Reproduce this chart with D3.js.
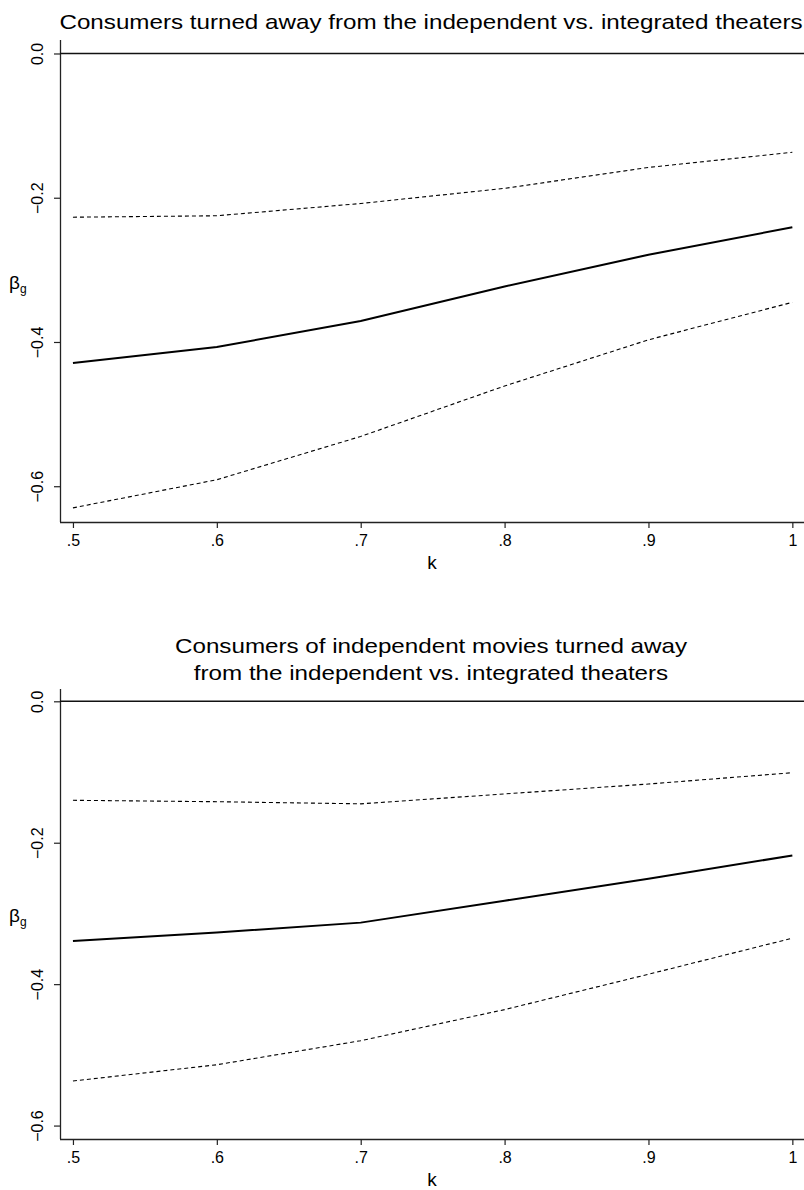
<!DOCTYPE html>
<html>
<head>
<meta charset="utf-8">
<script src="https://cdn.jsdelivr.net/npm/d3@7"></script>
<style>
	body { margin: 0; background: #fff; }
	svg { display: block; font-family: "Liberation Sans", Arial, Helvetica, sans-serif; }
</style>
</head>
<body>
<svg id="chart" width="804" height="1190"></svg>
<script>
"use strict";

var kValues = [0.5, 0.6, 0.7, 0.8, 0.9, 1.0];
var xTicks = [0.5, 0.6, 0.7, 0.8, 0.9, 1.0];
var xTickLabels = [".5", ".6", ".7", ".8", ".9", "1"];
var yTicks = [0, -0.2, -0.4, -0.6];
var yTickLabels = ["0.0", "\u22120.2", "\u22120.4", "\u22120.6"];

// panel 1: all consumers turned away
var est1 = [-0.429, -0.407, -0.371, -0.323, -0.279, -0.241];
var upper1 = [-0.227, -0.225, -0.208, -0.187, -0.158, -0.137];
var lower1 = [-0.630, -0.591, -0.531, -0.461, -0.397, -0.345];

// panel 2: consumers of independent movies
var est2 = [-0.339, -0.327, -0.313, -0.282, -0.251, -0.218];
var upper2 = [-0.140, -0.142, -0.145, -0.131, -0.117, -0.101];
var lower2 = [-0.537, -0.514, -0.480, -0.436, -0.386, -0.335];

var title1 = ["Consumers turned away from the independent vs. integrated theaters"];
var title2 = ["Consumers of independent movies turned away", "from the independent vs. integrated theaters"];

var svg = d3.select('#chart');
var stretch = 1.18; // reference text is a little wider than Liberation Sans

function drawPanel(opt) {
	var g = svg.append('g');
	var left = 60, right = 804;

	var x = d3.scaleLinear().domain([0.491, 1.0081]).range([left, right]);
	var y = d3.scaleLinear().domain(opt.yDomain).range([opt.bottom, opt.top]);

	// title
	opt.title.forEach(function(t, i){
		g.append('text')
			.attr('transform', 'translate(431,' + (opt.titleY + i*27) + ') scale(' + stretch + ',1)')
			.attr('text-anchor', 'middle')
			.attr('font-size', '20.5px')
			.attr('fill', '#000')
			.text(t);
	});

	// y axis
	var yAxis = d3.axisLeft(y).tickValues(yTicks).tickSize(6)
		.tickFormat(function(d, i){ return yTickLabels[i]; });
	var ya = g.append('g').attr('transform', 'translate(' + left + ',0)').call(yAxis);
	ya.select('.domain').attr('d', 'M0.5,' + opt.top + 'V' + opt.bottom).attr('stroke', '#222').attr('stroke-width', 1.3);
	ya.selectAll('.tick line').attr('stroke', '#222').attr('stroke-width', 1.2);
	ya.selectAll('.tick text')
		.attr('font-size', '16px')
		.attr('font-family', null)
		.attr('fill', '#000')
		.attr('text-anchor', 'middle')
		.attr('transform', 'rotate(-90)')
		.attr('x', 0)
		.attr('dy', 0)
		.attr('y', -17);

	// x axis
	var xAxis = d3.axisBottom(x).tickValues(xTicks).tickSize(6)
		.tickFormat(function(d, i){ return xTickLabels[i]; });
	var xa = g.append('g').attr('transform', 'translate(0,' + opt.bottom + ')').call(xAxis);
	xa.select('.domain').attr('d', 'M' + left + ',0.5H' + right).attr('stroke', '#222').attr('stroke-width', 1.3);
	xa.selectAll('.tick line').attr('stroke', '#222').attr('stroke-width', 1.2);
	xa.selectAll('.tick text')
		.attr('font-size', '16px')
		.attr('font-family', null)
		.attr('fill', '#000')
		.attr('dy', 0)
		.attr('y', 24);

	// axis titles
	g.append('text')
		.attr('x', 432)
		.attr('y', opt.bottom + 47)
		.attr('text-anchor', 'middle')
		.attr('font-size', '19px')
		.text('k');

	var by = (opt.top + opt.bottom) / 2;
	var bl = g.append('text')
		.attr('x', 9)
		.attr('y', by + 8)
		.attr('font-size', '19px');
	bl.append('tspan').text('\u03b2');
	bl.append('tspan').attr('font-size', '12px').attr('dy', 4).text('g');

	// zero reference line
	g.append('line')
		.attr('x1', left).attr('x2', right)
		.attr('y1', y(0)).attr('y2', y(0))
		.attr('stroke', '#111')
		.attr('stroke-width', 1.5);

	var line = d3.line()
		.x(function(d){ return x(d[0]); })
		.y(function(d){ return y(d[1]); });

	function series(vals, dashed) {
		g.append('path')
			.datum(d3.zip(kValues, vals))
			.attr('d', line)
			.attr('fill', 'none')
			.attr('stroke', '#000')
			.attr('stroke-width', dashed ? 1.1 : 2)
			.attr('stroke-dasharray', dashed ? '4,3' : null);
	}
	series(opt.upper, true);
	series(opt.est, false);
	series(opt.lower, true);
}

drawPanel({
	title: title1, titleY: 29,
	top: 40, bottom: 522,
	yDomain: [-0.6496, 0.0187],
	est: est1, upper: upper1, lower: lower1
});

drawPanel({
	title: title2, titleY: 653,
	top: 689, bottom: 1139,
	yDomain: [-0.619, 0.0174],
	est: est2, upper: upper2, lower: lower2
});
</script>
</body>
</html>
